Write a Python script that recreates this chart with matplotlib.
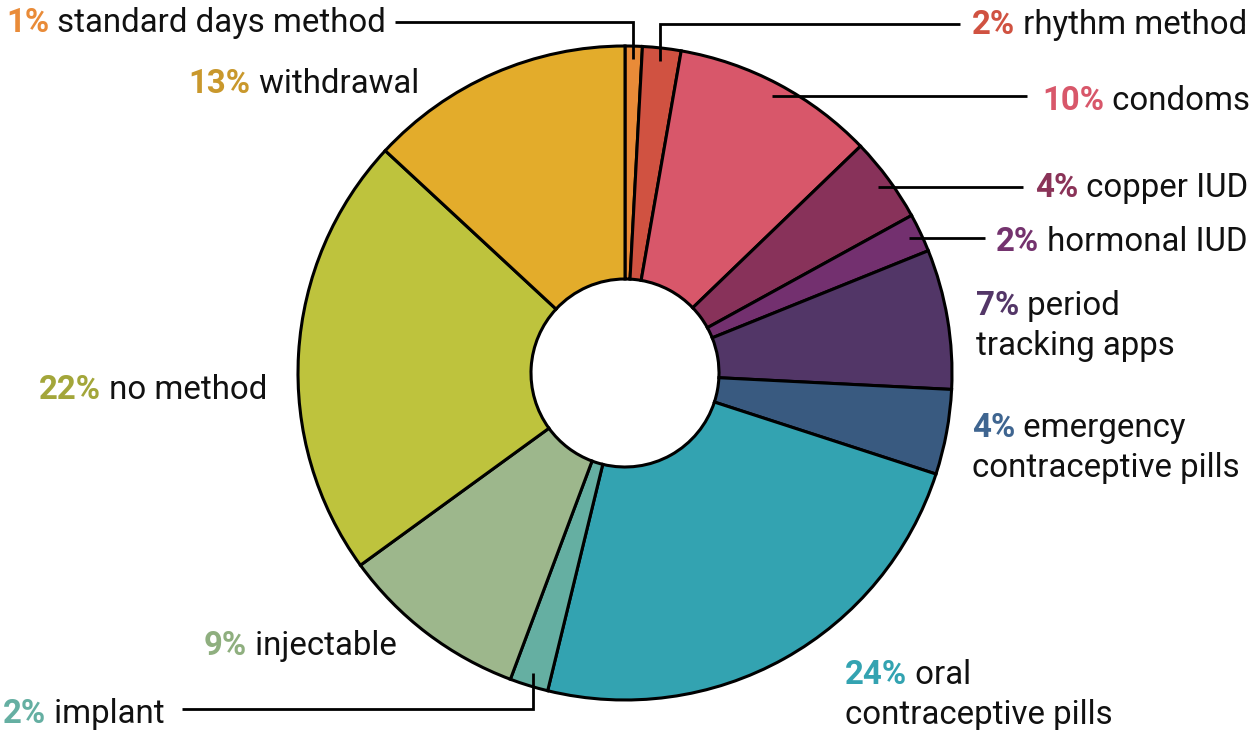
import matplotlib
matplotlib.use("Agg")
import matplotlib.pyplot as plt
import numpy as np

plt.rcParams['font.family'] = ['Roboto', 'DejaVu Sans']

# ---- data (clockwise from 12 o'clock) ----
methods = ["standard days method", "rhythm method", "condoms", "copper IUD",
           "hormonal IUD", "period\ntracking apps", "emergency\ncontraceptive pills",
           "oral\ncontraceptive pills", "implant", "injectable", "no method", "withdrawal"]
shares = [0.85, 1.9, 10.05, 4.2, 1.9, 6.9, 4.2, 23.8, 1.9, 9.3, 21.9, 13.1]
slice_colors = ["#E98B38", "#D05241", "#D8576A", "#88325A", "#73306F", "#523667",
                "#395A80", "#33A3B1", "#65AFA2", "#9DB78C", "#BEC33D", "#E3AC2B"]
pct_colors = ["#E98B38", "#D05241", "#D8576A", "#8A3358", "#74336E", "#533667",
              "#3F6590", "#33A3B1", "#65AFA2", "#8FAF7F", "#A3A63A", "#C9982C"]

W, H = 1250, 730
fig = plt.figure(figsize=(12.5, 7.3), dpi=100)
ax = fig.add_axes([0, 0, 1, 1])

cx, cy_px, R, r_in = 625, 373, 327, 94
cy = H - cy_px

wedges, _ = ax.pie(shares, colors=slice_colors, startangle=90, counterclock=False,
                   center=(cx, cy), radius=R,
                   wedgeprops=dict(width=R - r_in, edgecolor="black", linewidth=2.2))
ax.set_xlim(0, W)
ax.set_ylim(0, H)
ax.set_aspect('equal')
ax.axis('off')

FS = 23.8
fs_px = FS * 100 / 72
cap = 0.711 * fs_px
LH = 40  # line spacing in px
txtcol = "#111111"

# label layout: (side, x, center_y_px) ; side 'L' = left-aligned at x, 'R' = right-aligned at x
layout = {
    0: ('R', 386, 20),
    1: ('L', 972, 22),
    2: ('L', 1042, 98),
    3: ('L', 1035, 185),
    4: ('L', 996, 239),
    5: ('L', 976, 303),
    6: ('L', 972, 425),
    7: ('L', 845, 672),
    8: ('R', 165, 711),
    9: ('R', 397, 643),
    10: ('R', 267, 387),
    11: ('R', 419, 81),
}

for i, (side, x, yc) in layout.items():
    pct = f"{round(shares[i])}%"
    lines = methods[i].split("\n")
    base = H - (yc + cap / 2)
    if side == 'L':
        t1 = ax.text(x, base, pct, fontsize=FS, fontweight='bold', color=pct_colors[i],
                     ha='left', va='baseline')
        ax.annotate(" " + lines[0], xy=(1, 0), xycoords=t1, fontsize=FS, color=txtcol,
                    ha='left', va='bottom')
        for k, ln in enumerate(lines[1:], start=1):
            ax.text(x, base - k * LH, ln, fontsize=FS, color=txtcol, ha='left', va='baseline')
    else:
        t2 = ax.text(x, base, " " + lines[0], fontsize=FS, color=txtcol, ha='right', va='baseline')
        ax.annotate(pct, xy=(0, 0), xycoords=t2, fontsize=FS, fontweight='bold',
                    color=pct_colors[i], ha='right', va='bottom')

# leader lines: anchor inside the wedge at its mid-angle
def anchor(i, frac=0.96):
    w = wedges[i]
    a = np.deg2rad((w.theta1 + w.theta2) / 2)
    return cx + frac * R * np.cos(a), cy + frac * R * np.sin(a)

lw = 2.0
# (index, end x of line, elbow?)
leaders = [(0, 395, True), (1, 960, True), (2, 1027, False), (3, 1023, False),
           (4, 985, False), (8, 182, True)]
for i, xend, elbow in leaders:
    ax_, ay_ = anchor(i)
    yl = H - layout[i][2] - (2 if i in (0, 1) else 0) - (-2 if i == 8 else 0)
    if elbow:
        ax.plot([ax_, ax_, xend], [ay_, yl, yl], color='black', lw=lw,
                solid_joinstyle='miter', solid_capstyle='butt')
    else:
        ax.plot([ax_, xend], [ay_, ay_], color='black', lw=lw, solid_capstyle='butt')

fig.savefig("out.png", dpi=100)
